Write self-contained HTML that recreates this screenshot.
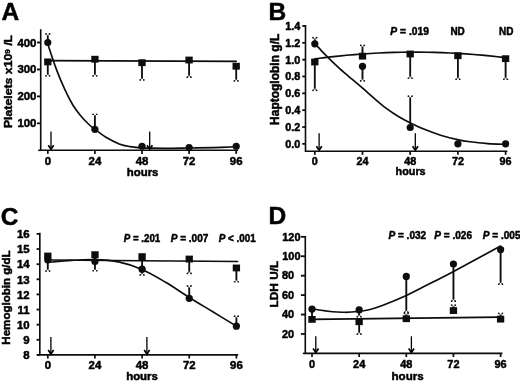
<!DOCTYPE html>
<html><head><meta charset="utf-8"><title>Figure</title>
<style>
html,body{margin:0;padding:0;background:#fff;}
body{width:520px;height:382px;overflow:hidden;font-family:"Liberation Sans",sans-serif;}
svg{display:block;}
text{font-family:"Liberation Sans",sans-serif;font-weight:bold;fill:#050505;stroke:#050505;stroke-width:0.5px;stroke-linejoin:round;}
.t{font-size:11.4px;}
.p{font-size:10.6px;}
.yl{font-size:12.3px;}
.i{font-style:italic;}
.L{font-size:24.5px;}
.ax{stroke:#0a0a0a;stroke-width:1.6;fill:none;}
.ln{stroke:#0a0a0a;stroke-width:1.65;fill:none;stroke-linecap:round;stroke-linejoin:round;}
.e{stroke:#0a0a0a;stroke-width:1.85;fill:none;}
.c{stroke:#0a0a0a;stroke-width:0.9;fill:none;}
.c2{stroke:#0a0a0a;stroke-width:0.65;fill:none;stroke-linecap:round;stroke-linejoin:round;}
.a{stroke:#000;stroke-width:1.3;fill:none;}
.ah{stroke:#000;stroke-width:1.7;fill:none;stroke-linejoin:miter;}
circle,rect{fill:#0a0a0a;}
</style></head><body>
<svg width="520" height="382" viewBox="0 0 520 382">
<defs><filter id="soft" x="0" y="0" width="520" height="382" filterUnits="userSpaceOnUse"><feGaussianBlur stdDeviation="0.35"/></filter></defs>
<rect x="0" y="0" width="520" height="382" style="fill:#fff"/>
<g filter="url(#soft)">

<text class="L" x="1.50" y="20.10">A</text>
<path class="ax" d="M40.70,29.20 V150.30 H238.00"/>
<path class="ax" d="M38.20,150.30 H40.70"/>
<path class="ax" style="stroke-width:1.8" d="M37.00,42.50 H40.70"/>
<text class="t" x="36.40" y="46.50" text-anchor="end">400</text>
<path class="ax" style="stroke-width:1.8" d="M37.00,69.45 H40.70"/>
<text class="t" x="36.40" y="73.45" text-anchor="end">300</text>
<path class="ax" style="stroke-width:1.8" d="M37.00,96.40 H40.70"/>
<text class="t" x="36.40" y="100.40" text-anchor="end">200</text>
<path class="ax" style="stroke-width:1.8" d="M37.00,123.35 H40.70"/>
<text class="t" x="36.40" y="127.35" text-anchor="end">100</text>
<path class="ax" style="stroke-width:1.7" d="M47.80,150.30 V153.90"/>
<text class="t" x="47.80" y="165.40" text-anchor="middle">0</text>
<path class="ax" style="stroke-width:1.7" d="M94.90,150.30 V153.90"/>
<text class="t" x="94.90" y="165.40" text-anchor="middle">24</text>
<path class="ax" style="stroke-width:1.7" d="M142.00,150.30 V153.90"/>
<text class="t" x="142.00" y="165.40" text-anchor="middle">48</text>
<path class="ax" style="stroke-width:1.7" d="M189.10,150.30 V153.90"/>
<text class="t" x="189.10" y="165.40" text-anchor="middle">72</text>
<path class="ax" style="stroke-width:1.7" d="M236.20,150.30 V153.90"/>
<text class="t" x="236.20" y="165.40" text-anchor="middle">96</text>
<text class="t" x="142.60" y="175.80" text-anchor="middle">hours</text>
<text class="yl" style="font-size:12.3px" text-anchor="middle" transform="translate(11.90,81.50) rotate(-90) scale(1,0.91)">Platelets x10<tspan dy="-2.6" style="font-size:8.4px">9</tspan><tspan dy="2.6"> </tspan><tspan style="letter-spacing:-0.3px">/</tspan>L</text>
<path class="ln" d="M47.80,60.56 L236.20,61.37"/>
<path class="ln" d="M47.30,42.50 C48.83,47.02 53.58,61.78 56.50,69.60 C59.42,77.42 62.05,83.47 64.80,89.40 C67.55,95.33 70.25,100.68 73.00,105.20 C75.75,109.72 78.55,113.20 81.30,116.50 C84.05,119.80 87.30,122.92 89.50,125.00 C91.70,127.08 91.75,126.95 94.50,129.00 C97.25,131.05 101.88,134.82 106.00,137.30 C110.12,139.78 115.20,142.35 119.20,143.90 C123.20,145.45 126.20,145.93 130.00,146.60 C133.80,147.27 136.17,147.62 142.00,147.90 C147.83,148.18 157.17,148.28 165.00,148.30 C172.83,148.32 181.00,148.12 189.00,148.00 C197.00,147.88 205.08,147.80 213.00,147.60 C220.92,147.40 232.58,146.93 236.50,146.80"/>
<path class="e" d="M47.80,61.90 V74.15"/>
<path class="c2" d="M46.20,75.65 L47.80,74.05 L49.40,75.65"/>
<circle class="cd" cx="46.00" cy="75.85" r="0.85"/><circle class="cd" cx="49.60" cy="75.85" r="0.85"/>
<rect x="44.15" y="58.50" width="7.30" height="6.80"/>
<path class="e" d="M94.90,59.21 V74.15"/>
<path class="c2" d="M93.30,75.65 L94.90,74.05 L96.50,75.65"/>
<circle class="cd" cx="93.10" cy="75.85" r="0.85"/><circle class="cd" cx="96.70" cy="75.85" r="0.85"/>
<rect x="91.25" y="55.81" width="7.30" height="6.80"/>
<path class="e" d="M142.00,62.71 V78.19"/>
<path class="c2" d="M140.40,79.69 L142.00,78.09 L143.60,79.69"/>
<circle class="cd" cx="140.20" cy="79.89" r="0.85"/><circle class="cd" cx="143.80" cy="79.89" r="0.85"/>
<rect x="138.35" y="59.31" width="7.30" height="6.80"/>
<path class="e" d="M189.10,60.02 V75.50"/>
<path class="c2" d="M187.50,77.00 L189.10,75.40 L190.70,77.00"/>
<circle class="cd" cx="187.30" cy="77.20" r="0.85"/><circle class="cd" cx="190.90" cy="77.20" r="0.85"/>
<rect x="185.45" y="56.62" width="7.30" height="6.80"/>
<path class="e" d="M236.20,66.22 V79.27"/>
<path class="c2" d="M234.60,80.77 L236.20,79.17 L237.80,80.77"/>
<circle class="cd" cx="234.40" cy="80.97" r="0.85"/><circle class="cd" cx="238.00" cy="80.97" r="0.85"/>
<rect x="232.55" y="62.82" width="7.30" height="6.80"/>
<path class="e" d="M47.80,42.50 V35.65"/>
<path class="c2" d="M46.20,34.15 L47.80,35.75 L49.40,34.15"/>
<circle class="cd" cx="46.00" cy="33.95" r="0.85"/><circle class="cd" cx="49.60" cy="33.95" r="0.85"/>
<path class="e" d="M94.90,129.28 V115.96"/>
<path class="c2" d="M93.30,114.46 L94.90,116.06 L96.50,114.46"/>
<circle class="cd" cx="93.10" cy="114.26" r="0.85"/><circle class="cd" cx="96.70" cy="114.26" r="0.85"/>
<circle cx="47.80" cy="42.50" r="3.60"/>
<circle cx="94.90" cy="129.28" r="3.60"/>
<circle cx="142.00" cy="146.26" r="3.60"/>
<circle cx="189.10" cy="147.61" r="3.60"/>
<circle cx="236.20" cy="146.26" r="3.60"/>
<path class="a" d="M51.00,131.50 V148.80"/>
<path class="ah" d="M48.30,145.30 L51.00,149.30 L53.70,145.30"/>
<path class="a" d="M149.70,131.50 V148.80"/>
<path class="ah" d="M147.00,145.30 L149.70,149.30 L152.40,145.30"/>
<text class="L" x="268.50" y="20.20">B</text>
<path class="ax" d="M305.50,25.10 V151.25 H507.40"/>
<path class="ax" d="M305.50,151.25 H305.50"/>
<path class="ax" style="stroke-width:1.8" d="M302.30,25.97 H305.50"/>
<text class="t" transform="translate(300.40,29.97) scale(0.95,1)" text-anchor="end">1.4</text>
<path class="ax" style="stroke-width:1.8" d="M302.30,42.81 H305.50"/>
<text class="t" transform="translate(300.40,46.81) scale(0.95,1)" text-anchor="end">1.2</text>
<path class="ax" style="stroke-width:1.8" d="M302.30,59.65 H305.50"/>
<text class="t" transform="translate(300.40,63.65) scale(0.95,1)" text-anchor="end">1.0</text>
<path class="ax" style="stroke-width:1.8" d="M302.30,76.49 H305.50"/>
<text class="t" transform="translate(300.40,80.49) scale(0.95,1)" text-anchor="end">0.8</text>
<path class="ax" style="stroke-width:1.8" d="M302.30,93.33 H305.50"/>
<text class="t" transform="translate(300.40,97.33) scale(0.95,1)" text-anchor="end">0.6</text>
<path class="ax" style="stroke-width:1.8" d="M302.30,110.17 H305.50"/>
<text class="t" transform="translate(300.40,114.17) scale(0.95,1)" text-anchor="end">0.4</text>
<path class="ax" style="stroke-width:1.8" d="M302.30,127.01 H305.50"/>
<text class="t" transform="translate(300.40,131.01) scale(0.95,1)" text-anchor="end">0.2</text>
<path class="ax" style="stroke-width:1.8" d="M302.30,143.85 H305.50"/>
<text class="t" transform="translate(300.40,147.85) scale(0.95,1)" text-anchor="end">0.0</text>
<path class="ax" style="stroke-width:1.7" d="M314.80,151.25 V154.85"/>
<text class="t" transform="translate(314.80,165.20) scale(0.95,1)" text-anchor="middle">0</text>
<path class="ax" style="stroke-width:1.7" d="M362.50,151.25 V154.85"/>
<text class="t" transform="translate(362.50,165.20) scale(0.95,1)" text-anchor="middle">24</text>
<path class="ax" style="stroke-width:1.7" d="M410.20,151.25 V154.85"/>
<text class="t" transform="translate(410.20,165.20) scale(0.95,1)" text-anchor="middle">48</text>
<path class="ax" style="stroke-width:1.7" d="M457.90,151.25 V154.85"/>
<text class="t" transform="translate(457.90,165.20) scale(0.95,1)" text-anchor="middle">72</text>
<path class="ax" style="stroke-width:1.7" d="M505.60,151.25 V154.85"/>
<text class="t" transform="translate(505.60,165.20) scale(0.95,1)" text-anchor="middle">96</text>
<text class="t" transform="translate(410.60,175.40) scale(0.95,1)" text-anchor="middle">hours</text>
<text class="yl" style="font-size:12.0px" text-anchor="middle" transform="translate(279.20,79.30) rotate(-90) scale(1,1.0)">Haptoglobin g/L</text>
<path class="ln" d="M314.80,58.93 C316.12,58.76 320.10,58.22 322.75,57.89 C325.40,57.55 328.05,57.23 330.70,56.93 C333.35,56.62 336.00,56.33 338.65,56.06 C341.30,55.78 343.95,55.52 346.60,55.27 C349.25,55.03 351.90,54.80 354.55,54.58 C357.20,54.36 359.85,54.16 362.50,53.97 C365.15,53.78 367.80,53.61 370.45,53.45 C373.10,53.29 375.75,53.14 378.40,53.01 C381.05,52.88 383.70,52.76 386.35,52.66 C389.00,52.56 391.65,52.47 394.30,52.40 C396.95,52.33 399.60,52.27 402.25,52.23 C404.90,52.18 407.55,52.16 410.20,52.14 C412.85,52.13 415.50,52.13 418.15,52.14 C420.80,52.15 423.45,52.18 426.10,52.22 C428.75,52.27 431.40,52.32 434.05,52.39 C436.70,52.46 439.35,52.54 442.00,52.64 C444.65,52.74 447.30,52.85 449.95,52.98 C452.60,53.10 455.25,53.24 457.90,53.39 C460.55,53.55 463.20,53.71 465.85,53.90 C468.50,54.08 471.15,54.27 473.80,54.48 C476.45,54.69 479.10,54.91 481.75,55.15 C484.40,55.39 487.05,55.64 489.70,55.90 C492.35,56.16 495.00,56.44 497.65,56.74 C500.30,57.03 504.28,57.50 505.60,57.65"/>
<path class="ln" d="M314.60,43.30 C316.00,44.82 320.07,49.35 323.00,52.40 C325.93,55.45 329.37,58.87 332.20,61.60 C335.03,64.33 336.87,66.02 340.00,68.80 C343.13,71.58 347.23,75.07 351.00,78.30 C354.77,81.53 358.77,84.88 362.60,88.20 C366.43,91.52 370.22,94.97 374.00,98.20 C377.78,101.43 381.30,104.60 385.30,107.60 C389.30,110.60 393.82,113.65 398.00,116.20 C402.18,118.75 405.90,120.67 410.40,122.90 C414.90,125.13 419.97,127.55 425.00,129.60 C430.03,131.65 435.20,133.53 440.60,135.20 C446.00,136.87 452.50,138.50 457.40,139.60 C462.30,140.70 464.90,141.13 470.00,141.80 C475.10,142.47 482.05,143.17 488.00,143.60 C493.95,144.03 502.75,144.27 505.70,144.40"/>
<path class="e" d="M314.80,61.99 V88.62"/>
<path class="c2" d="M313.20,90.12 L314.80,88.52 L316.40,90.12"/>
<circle class="cd" cx="313.00" cy="90.32" r="0.85"/><circle class="cd" cx="316.60" cy="90.32" r="0.85"/>
<rect x="311.15" y="58.59" width="7.30" height="6.80"/>
<path class="e" d="M362.50,56.12 V47.00"/>
<path class="c2" d="M360.90,45.50 L362.50,47.10 L364.10,45.50"/>
<circle class="cd" cx="360.70" cy="45.30" r="0.85"/><circle class="cd" cx="364.30" cy="45.30" r="0.85"/>
<rect x="358.85" y="52.73" width="7.30" height="6.80"/>
<path class="e" d="M410.20,54.00 V76.55"/>
<path class="c2" d="M408.60,78.05 L410.20,76.45 L411.80,78.05"/>
<circle class="cd" cx="408.40" cy="78.25" r="0.85"/><circle class="cd" cx="412.00" cy="78.25" r="0.85"/>
<rect x="406.55" y="50.60" width="7.30" height="6.80"/>
<path class="e" d="M457.90,55.70 V77.57"/>
<path class="c2" d="M456.30,79.07 L457.90,77.47 L459.50,79.07"/>
<circle class="cd" cx="456.10" cy="79.27" r="0.85"/><circle class="cd" cx="459.70" cy="79.27" r="0.85"/>
<rect x="454.25" y="52.30" width="7.30" height="6.80"/>
<path class="e" d="M505.60,58.67 V77.57"/>
<path class="c2" d="M504.00,79.07 L505.60,77.47 L507.20,79.07"/>
<circle class="cd" cx="503.80" cy="79.27" r="0.85"/><circle class="cd" cx="507.40" cy="79.27" r="0.85"/>
<rect x="501.95" y="55.27" width="7.30" height="6.80"/>
<path class="e" d="M314.80,43.80 V39.35"/>
<path class="c2" d="M313.20,37.85 L314.80,39.45 L316.40,37.85"/>
<circle class="cd" cx="313.00" cy="37.65" r="0.85"/><circle class="cd" cx="316.60" cy="37.65" r="0.85"/>
<path class="e" d="M362.50,66.32 V79.10"/>
<path class="c2" d="M360.90,80.60 L362.50,79.00 L364.10,80.60"/>
<circle class="cd" cx="360.70" cy="80.80" r="0.85"/><circle class="cd" cx="364.30" cy="80.80" r="0.85"/>
<path class="e" d="M410.20,127.52 V97.83"/>
<path class="c2" d="M408.60,96.33 L410.20,97.93 L411.80,96.33"/>
<circle class="cd" cx="408.40" cy="96.13" r="0.85"/><circle class="cd" cx="412.00" cy="96.13" r="0.85"/>
<circle cx="314.80" cy="43.80" r="3.60"/>
<circle cx="362.50" cy="66.32" r="3.60"/>
<circle cx="410.20" cy="127.52" r="3.60"/>
<circle cx="457.90" cy="143.80" r="3.60"/>
<circle cx="505.60" cy="143.80" r="3.60"/>
<path class="a" d="M319.10,133.30 V149.70"/>
<path class="ah" d="M316.40,146.20 L319.10,150.20 L321.80,146.20"/>
<path class="a" d="M415.30,133.30 V149.70"/>
<path class="ah" d="M412.60,146.20 L415.30,150.20 L418.00,146.20"/>
<text class="p" transform="translate(409.60,35.20) scale(0.97,1)" text-anchor="middle"><tspan class="i">P</tspan> = .019</text>
<text class="p" transform="translate(457.60,35.20) scale(0.94,1)" text-anchor="middle">ND</text>
<text class="p" transform="translate(506.20,35.20) scale(0.94,1)" text-anchor="middle">ND</text>
<text class="L" x="0.80" y="225.20">C</text>
<path class="ax" d="M39.80,232.80 V354.90 H238.20"/>
<path class="ax" d="M37.30,354.90 H39.80"/>
<path class="ax" style="stroke-width:1.8" d="M36.60,233.94 H39.80"/>
<text class="t" x="29.60" y="238.24" text-anchor="end">16</text>
<path class="ax" style="stroke-width:1.8" d="M36.60,249.06 H39.80"/>
<text class="t" x="29.60" y="253.36" text-anchor="end">15</text>
<path class="ax" style="stroke-width:1.8" d="M36.60,264.18 H39.80"/>
<text class="t" x="29.60" y="268.48" text-anchor="end">14</text>
<path class="ax" style="stroke-width:1.8" d="M36.60,279.30 H39.80"/>
<text class="t" x="29.60" y="283.60" text-anchor="end">13</text>
<path class="ax" style="stroke-width:1.8" d="M36.60,294.42 H39.80"/>
<text class="t" x="29.60" y="298.72" text-anchor="end">12</text>
<path class="ax" style="stroke-width:1.8" d="M36.60,309.54 H39.80"/>
<text class="t" x="29.60" y="313.84" text-anchor="end">11</text>
<path class="ax" style="stroke-width:1.8" d="M36.60,324.66 H39.80"/>
<text class="t" x="29.60" y="328.96" text-anchor="end">10</text>
<path class="ax" style="stroke-width:1.8" d="M36.60,339.78 H39.80"/>
<text class="t" x="29.60" y="344.08" text-anchor="end">9</text>
<path class="ax" style="stroke-width:1.8" d="M36.60,354.90 H39.80"/>
<text class="t" x="29.60" y="359.20" text-anchor="end">8</text>
<path class="ax" style="stroke-width:1.7" d="M47.80,354.90 V358.50"/>
<text class="t" x="47.80" y="368.60" text-anchor="middle">0</text>
<path class="ax" style="stroke-width:1.7" d="M94.95,354.90 V358.50"/>
<text class="t" x="94.95" y="368.60" text-anchor="middle">24</text>
<path class="ax" style="stroke-width:1.7" d="M142.10,354.90 V358.50"/>
<text class="t" x="142.10" y="368.60" text-anchor="middle">48</text>
<path class="ax" style="stroke-width:1.7" d="M189.25,354.90 V358.50"/>
<text class="t" x="189.25" y="368.60" text-anchor="middle">72</text>
<path class="ax" style="stroke-width:1.7" d="M236.40,354.90 V358.50"/>
<text class="t" x="236.40" y="368.60" text-anchor="middle">96</text>
<text class="t" x="142.00" y="380.40" text-anchor="middle">hours</text>
<text class="yl" style="font-size:11.56px" text-anchor="middle" transform="translate(9.70,297.50) rotate(-90) scale(1,1.0)">Hemoglobin g/dL</text>
<path class="ln" d="M47.80,259.95 L237.60,261.46"/>
<path class="ln" d="M47.80,262.37 C51.73,262.04 63.52,260.85 71.38,260.40 C79.23,259.95 87.09,259.39 94.95,259.64 C102.81,259.90 110.67,260.27 118.52,261.91 C126.38,263.55 134.24,266.07 142.10,269.47 C149.96,272.87 157.82,277.66 165.68,282.32 C173.53,286.99 181.39,292.53 189.25,297.44 C197.11,302.36 204.97,307.02 212.82,311.81 C220.68,316.60 232.47,323.78 236.40,326.17"/>
<path class="e" d="M47.80,256.02 V269.33"/>
<path class="c2" d="M46.20,270.83 L47.80,269.23 L49.40,270.83"/>
<circle class="cd" cx="46.00" cy="271.03" r="0.85"/><circle class="cd" cx="49.60" cy="271.03" r="0.85"/>
<rect x="44.15" y="252.62" width="7.30" height="6.80"/>
<path class="e" d="M94.95,254.65 V269.03"/>
<path class="c2" d="M93.35,270.53 L94.95,268.93 L96.55,270.53"/>
<circle class="cd" cx="93.15" cy="270.73" r="0.85"/><circle class="cd" cx="96.75" cy="270.73" r="0.85"/>
<rect x="91.30" y="251.25" width="7.30" height="6.80"/>
<path class="e" d="M142.10,256.62 V267.22"/>
<path class="c2" d="M140.50,268.72 L142.10,267.12 L143.70,268.72"/>
<circle class="cd" cx="140.30" cy="268.92" r="0.85"/><circle class="cd" cx="143.90" cy="268.92" r="0.85"/>
<rect x="138.45" y="253.22" width="7.30" height="6.80"/>
<path class="e" d="M189.25,259.04 V271.75"/>
<path class="c2" d="M187.65,273.25 L189.25,271.65 L190.85,273.25"/>
<circle class="cd" cx="187.45" cy="273.45" r="0.85"/><circle class="cd" cx="191.05" cy="273.45" r="0.85"/>
<rect x="185.60" y="255.64" width="7.30" height="6.80"/>
<path class="e" d="M236.40,267.96 V280.07"/>
<path class="c2" d="M234.80,281.57 L236.40,279.97 L238.00,281.57"/>
<circle class="cd" cx="234.60" cy="281.77" r="0.85"/><circle class="cd" cx="238.20" cy="281.77" r="0.85"/>
<rect x="232.75" y="264.56" width="7.30" height="6.80"/>
<path class="e" d="M142.10,269.17 V273.26"/>
<path class="c2" d="M140.50,274.76 L142.10,273.16 L143.70,274.76"/>
<circle class="cd" cx="140.30" cy="274.96" r="0.85"/><circle class="cd" cx="143.90" cy="274.96" r="0.85"/>
<path class="e" d="M189.25,298.35 V287.60"/>
<path class="c2" d="M187.65,286.10 L189.25,287.70 L190.85,286.10"/>
<circle class="cd" cx="187.45" cy="285.90" r="0.85"/><circle class="cd" cx="191.05" cy="285.90" r="0.85"/>
<path class="e" d="M236.40,326.17 V317.84"/>
<path class="c2" d="M234.80,316.34 L236.40,317.94 L238.00,316.34"/>
<circle class="cd" cx="234.60" cy="316.14" r="0.85"/><circle class="cd" cx="238.20" cy="316.14" r="0.85"/>
<circle cx="47.80" cy="259.95" r="3.60"/>
<circle cx="94.95" cy="261.61" r="3.60"/>
<circle cx="142.10" cy="269.17" r="3.60"/>
<circle cx="189.25" cy="298.35" r="3.60"/>
<circle cx="236.40" cy="326.17" r="3.60"/>
<path class="a" d="M50.90,337.10 V353.40"/>
<path class="ah" d="M48.20,349.90 L50.90,353.90 L53.60,349.90"/>
<path class="a" d="M146.90,337.10 V353.40"/>
<path class="ah" d="M144.20,349.90 L146.90,353.90 L149.60,349.90"/>
<text class="p" transform="translate(142.00,242.00) scale(0.92,1)" text-anchor="middle"><tspan class="i">P</tspan> = .201</text>
<text class="p" transform="translate(189.50,242.00) scale(0.95,1)" text-anchor="middle"><tspan class="i">P</tspan> = .007</text>
<text class="p" transform="translate(237.20,242.00) scale(0.93,1)" text-anchor="middle"><tspan class="i">P</tspan> &lt; .001</text>
<text class="L" x="268.60" y="223.80">D</text>
<path class="ax" d="M305.30,236.00 V353.40 H502.40"/>
<path class="ax" d="M302.80,353.40 H305.30"/>
<path class="ax" style="stroke-width:1.8" d="M300.90,236.82 H305.30"/>
<text class="t" transform="translate(300.50,240.52) scale(0.96,1)" text-anchor="end">120</text>
<path class="ax" style="stroke-width:1.8" d="M300.90,256.25 H305.30"/>
<text class="t" transform="translate(300.50,259.95) scale(0.96,1)" text-anchor="end">100</text>
<path class="ax" style="stroke-width:1.8" d="M300.90,275.68 H305.30"/>
<text class="t" transform="translate(282.00,279.38) scale(0.96,1)" text-anchor="start">80</text>
<path class="ax" style="stroke-width:1.8" d="M300.90,295.11 H305.30"/>
<text class="t" transform="translate(282.00,298.81) scale(0.96,1)" text-anchor="start">60</text>
<path class="ax" style="stroke-width:1.8" d="M300.90,314.54 H305.30"/>
<text class="t" transform="translate(282.00,318.24) scale(0.96,1)" text-anchor="start">40</text>
<path class="ax" style="stroke-width:1.8" d="M300.90,333.97 H305.30"/>
<text class="t" transform="translate(282.00,337.67) scale(0.96,1)" text-anchor="start">20</text>
<path class="ax" style="stroke-width:1.7" d="M312.00,353.40 V357.00"/>
<text class="t" transform="translate(312.00,367.80) scale(0.96,1)" text-anchor="middle">0</text>
<path class="ax" style="stroke-width:1.7" d="M359.15,353.40 V357.00"/>
<text class="t" transform="translate(359.15,367.80) scale(0.96,1)" text-anchor="middle">24</text>
<path class="ax" style="stroke-width:1.7" d="M406.30,353.40 V357.00"/>
<text class="t" transform="translate(406.30,367.80) scale(0.96,1)" text-anchor="middle">48</text>
<path class="ax" style="stroke-width:1.7" d="M453.45,353.40 V357.00"/>
<text class="t" transform="translate(453.45,367.80) scale(0.96,1)" text-anchor="middle">72</text>
<path class="ax" style="stroke-width:1.7" d="M500.60,353.40 V357.00"/>
<text class="t" transform="translate(500.60,367.80) scale(0.96,1)" text-anchor="middle">96</text>
<text class="t" style="font-size:11.6px" x="407.60" y="379.60" text-anchor="middle">hours</text>
<text class="yl" style="font-size:11.85px" text-anchor="middle" transform="translate(278.00,284.10) rotate(-90) scale(1,0.91)">LDH U/L</text>
<path class="ln" d="M312.00,319.40 L500.60,317.16"/>
<path class="ln" d="M312.00,308.80 C314.67,309.20 322.50,310.62 328.00,311.20 C333.50,311.78 339.78,312.28 345.00,312.30 C350.22,312.32 354.97,311.82 359.30,311.30 C363.63,310.78 367.05,310.20 371.00,309.20 C374.95,308.20 377.12,307.58 383.00,305.30 C388.88,303.02 399.47,298.62 406.30,295.50 C413.13,292.38 416.12,290.62 424.00,286.60 C431.88,282.58 440.83,278.17 453.60,271.40 C466.37,264.63 492.77,250.23 500.60,246.00"/>
<path class="e" d="M359.15,321.73 V332.47"/>
<path class="c2" d="M357.55,333.97 L359.15,332.37 L360.75,333.97"/>
<circle class="cd" cx="357.35" cy="334.17" r="0.85"/><circle class="cd" cx="360.95" cy="334.17" r="0.85"/>
<path class="e" d="M406.30,318.72 V315.07"/>
<path class="c2" d="M404.70,313.57 L406.30,315.17 L407.90,313.57"/>
<circle class="cd" cx="404.50" cy="313.37" r="0.85"/><circle class="cd" cx="408.10" cy="313.37" r="0.85"/>
<path class="e" d="M453.45,310.36 V306.81"/>
<path class="c2" d="M451.85,305.31 L453.45,306.91 L455.05,305.31"/>
<circle class="cd" cx="451.65" cy="305.11" r="0.85"/><circle class="cd" cx="455.25" cy="305.11" r="0.85"/>
<path class="e" d="M500.60,318.72 V315.07"/>
<path class="c2" d="M499.00,313.57 L500.60,315.17 L502.20,313.57"/>
<circle class="cd" cx="498.80" cy="313.37" r="0.85"/><circle class="cd" cx="502.40" cy="313.37" r="0.85"/>
<path class="e" d="M312.00,309.10 V319.40"/>
<path class="e" d="M359.15,309.88 V314.98"/>
<path class="c2" d="M357.55,316.48 L359.15,314.88 L360.75,316.48"/>
<circle class="cd" cx="357.35" cy="316.68" r="0.85"/><circle class="cd" cx="360.95" cy="316.68" r="0.85"/>
<path class="e" d="M406.30,276.46 V310.61"/>
<path class="c2" d="M404.70,312.11 L406.30,310.51 L407.90,312.11"/>
<circle class="cd" cx="404.50" cy="312.31" r="0.85"/><circle class="cd" cx="408.10" cy="312.31" r="0.85"/>
<path class="e" d="M453.45,264.02 V299.44"/>
<path class="c2" d="M451.85,300.94 L453.45,299.34 L455.05,300.94"/>
<circle class="cd" cx="451.65" cy="301.14" r="0.85"/><circle class="cd" cx="455.25" cy="301.14" r="0.85"/>
<path class="e" d="M500.60,249.55 V282.44"/>
<path class="c2" d="M499.00,283.94 L500.60,282.34 L502.20,283.94"/>
<circle class="cd" cx="498.80" cy="284.14" r="0.85"/><circle class="cd" cx="502.40" cy="284.14" r="0.85"/>
<rect x="308.35" y="316.00" width="7.30" height="6.80"/>
<rect x="355.50" y="318.33" width="7.30" height="6.80"/>
<rect x="402.65" y="315.32" width="7.30" height="6.80"/>
<rect x="449.80" y="307.16" width="7.30" height="6.80"/>
<rect x="496.95" y="315.71" width="7.30" height="6.80"/>
<circle cx="312.00" cy="309.10" r="3.60"/>
<circle cx="359.15" cy="309.88" r="3.60"/>
<circle cx="406.30" cy="276.46" r="3.60"/>
<circle cx="453.45" cy="264.02" r="3.60"/>
<circle cx="500.60" cy="249.55" r="3.60"/>
<path class="a" d="M315.80,336.30 V351.90"/>
<path class="ah" d="M313.10,348.40 L315.80,352.40 L318.50,348.40"/>
<path class="a" d="M411.40,336.30 V351.90"/>
<path class="ah" d="M408.70,348.40 L411.40,352.40 L414.10,348.40"/>
<text class="p" transform="translate(407.30,239.20) scale(0.95,1)" text-anchor="middle"><tspan class="i">P</tspan> = .032</text>
<text class="p" transform="translate(453.10,239.20) scale(0.95,1)" text-anchor="middle"><tspan class="i">P</tspan> = .026</text>
<text class="p" transform="translate(501.60,239.20) scale(0.95,1)" text-anchor="middle"><tspan class="i">P</tspan> = .005</text>
</g></svg></body></html>
